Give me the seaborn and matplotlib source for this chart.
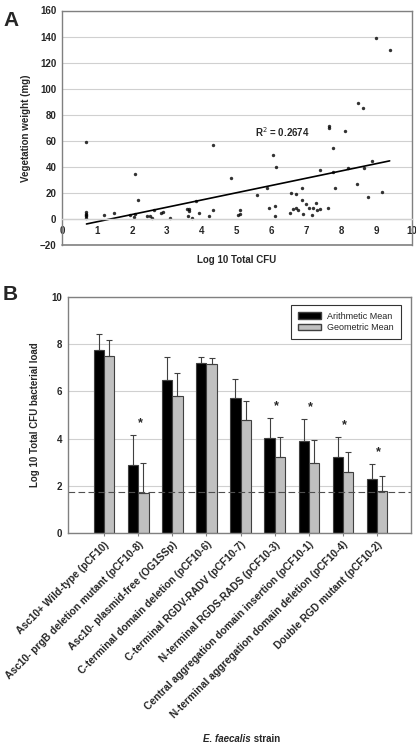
import numpy as np
import pandas as pd
import matplotlib
matplotlib.use("Agg")
import matplotlib.pyplot as plt
from matplotlib.patches import Patch
import seaborn as sns

# Panel A data: log10 CFU vs vegetation weight
cfu = [0.7, 0.7, 0.7, 0.7, 0.7, 0.7, 1.19, 1.5, 1.95, 2.08, 2.05, 2.08, 2.18,
       2.43, 2.52, 2.57, 2.63, 2.84, 2.9, 3.08, 3.58, 3.62, 3.64, 3.61, 3.73,
       3.84, 3.93, 4.2, 4.31, 4.33, 4.83, 5.03, 5.08, 5.1, 5.57, 5.86, 5.93,
       6.03, 6.08, 6.1, 6.13, 6.52, 6.55, 6.6, 6.69, 6.7, 6.76, 6.85, 6.85,
       6.9, 6.98, 7.06, 7.16, 7.19, 7.26, 7.29, 7.38, 7.39, 7.6, 7.64, 7.64,
       7.74, 7.74, 7.82, 8.1, 8.18, 8.45, 8.47, 8.61, 8.64, 8.74, 8.87, 8.98,
       9.16, 9.37]
weight = [59, 5, 4, 3, 2, 1, 3, 4.7, 3, 34.5, 1.3, 4, 14.8,
          2.3, 2.3, 0.5, 6.5, 4.7, 5.7, 1, 7.5, 6, 7.5, 2.6, 0.5,
          13.5, 4.7, 2.3, 6.5, 57, 31.4, 2.9, 3.6, 7, 18.2, 24, 8.3,
          49, 9.6, 2.6, 39.7, 4.9, 19.7, 7.5, 19.2, 8.6, 6.5, 24, 14.3,
          3.9, 11.7, 8.6, 3.1, 8.6, 12.2, 6.5, 8, 37.4, 8.2, 71.3, 69.5,
          54.6, 36.4, 23.6, 67.2, 39.2, 26.7, 89, 85.4, 39.2, 16.9, 44.6, 139,
          21, 130]
r_squared = "0.2674"

# Panel B data
strains = ["Asc10+ Wild-type (pCF10)",
           "Asc10- prgB deletion mutant (pCF10-8)",
           "Asc10- plasmid-free (OG1SSp)",
           "C-terminal domain deletion (pCF10-6)",
           "C-terminal RGDV-RADV (pCF10-7)",
           "N-terminal RGDS-RADS (pCF10-3)",
           "Central aggregation domain insertion (pCF10-1)",
           "N-terminal aggregation domain deletion (pCF10-4)",
           "Double RGD mutant (pCF10-2)"]
arith_mean = [7.75, 2.88, 6.47, 7.19, 5.73, 4.02, 3.9, 3.24, 2.3]
arith_err = [0.66, 1.27, 1.0, 0.25, 0.81, 0.87, 0.95, 0.81, 0.62]
geo_mean = [7.51, 1.69, 5.82, 7.16, 4.79, 3.23, 2.97, 2.61, 1.8]
geo_err = [0.66, 1.27, 0.97, 0.24, 0.82, 0.85, 0.97, 0.81, 0.63]
significant = [False, True, False, False, False, True, True, True, True]
detection_limit = 1.76

sns.set_theme(style="white")
plt.rcParams["font.family"] = ["Liberation Sans", "DejaVu Sans"]

W, H = 416, 745
fig = plt.figure(figsize=(W / 100, H / 100), dpi=100)


def px_axes(left, top, right, bottom):
    return fig.add_axes([left / W, 1 - bottom / H, (right - left) / W, (bottom - top) / H])


GRID = "#d0d0d0"
FRAME = "#808080"

# ---- Panel A ----
axA = px_axes(62, 10.5, 411.7, 245)
sns.regplot(x=cfu, y=weight, ax=axA, ci=None,
            scatter_kws=dict(marker="D", s=6, color="black", linewidths=0),
            line_kws=dict(color="black", lw=1.2))
axA.set_xlim(0, 10)
axA.set_ylim(-20, 160)
axA.set_xticks(range(0, 11))
axA.set_yticks(range(-20, 161, 20))
axA.yaxis.grid(True, color=GRID, lw=0.8)
axA.set_axisbelow(True)
for s in axA.spines.values():
    s.set_color(FRAME)
    s.set_linewidth(1)
# x axis crosses at y = 0, frame still closes at the bottom
axA.spines["bottom"].set_position(("data", 0))
axA.spines["bottom"].set_color(GRID)
axA.axhline(-20, color=FRAME, lw=1.2, clip_on=False)
axA.tick_params(axis="y", length=2.5, width=0.8, color=FRAME, pad=1.5, labelsize=7)
axA.tick_params(axis="x", length=2.5, width=0.8, color=GRID, pad=2.5, labelsize=7)
for lab in axA.get_xticklabels() + axA.get_yticklabels():
    lab.set_fontweight("bold")
axA.set_xlabel("")
fig.text((62 + 411.7) / 2 / W, 1 - 260 / H, "Log 10 Total CFU", fontsize=7,
         fontweight="bold", ha="center", va="center")
axA.set_ylabel("Vegetation weight (mg)", fontsize=7, fontweight="bold", labelpad=6)
axA.text(5.52, 67, f"R$^2$ = {r_squared}", fontsize=7, fontweight="bold", va="center")
fig.text(3 / W, 1 - 20 / H, "A", fontsize=15, fontweight="bold", va="center")

# ---- Panel B ----
axB = px_axes(67.7, 296.7, 410.7, 533.3)
df = pd.DataFrame({
    "strain": strains * 2,
    "measure": ["Arithmetic Mean"] * len(strains) + ["Geometric Mean"] * len(strains),
    "value": arith_mean + geo_mean,
})
sns.barplot(data=df, x="strain", y="value", hue="measure", ax=axB,
            palette=["black", "#c0c0c0"], width=0.6, errorbar=None,
            edgecolor="#404040", linewidth=0.8, legend=False)

# one-sided error bars on top of each bar
bars = axB.patches
n = len(strains)
for i, (means, errs) in enumerate([(arith_mean, arith_err), (geo_mean, geo_err)]):
    xs = [p.get_x() + p.get_width() / 2 for p in bars[i * n:(i + 1) * n]]
    axB.errorbar(xs, means, yerr=[np.zeros(n), errs], fmt="none",
                 ecolor="#404040", elinewidth=0.8, capsize=2.5, capthick=0.8)

for k, sig in enumerate(significant):
    if sig:
        top = max(arith_mean[k] + arith_err[k], geo_mean[k] + geo_err[k])
        axB.text(k + 0.05, top + 0.5, "*", ha="center", va="center",
                 fontsize=9, fontweight="bold")

axB.axhline(detection_limit, color="#505050", lw=0.8, ls=(0, (6, 3)))
axB.set_xlim(-1.07, 8.99)
axB.set_ylim(0, 10)
axB.set_yticks(range(0, 11, 2))
axB.yaxis.grid(True, color=GRID, lw=0.8)
axB.set_axisbelow(True)
for s in axB.spines.values():
    s.set_color(FRAME)
    s.set_linewidth(1)
axB.tick_params(axis="y", length=2.5, width=0.8, color=FRAME, pad=1.5, labelsize=7)
axB.tick_params(axis="x", length=2.5, width=0.8, color=FRAME, pad=2, labelsize=7.4,
                bottom=True)
axB.set_xticks(range(n))
axB.set_xticklabels(strains, rotation=45, ha="right", rotation_mode="anchor")
for lab in axB.get_xticklabels() + axB.get_yticklabels():
    lab.set_fontweight("bold")
axB.set_ylabel("Log 10 Total CFU bacterial load", fontsize=7, fontweight="bold", labelpad=8)
axB.set_xlabel("")

# x label: italic species name followed by upright "strain"
species = fig.text(251 / W, 1 - 739 / H, "E. faecalis", fontsize=7, fontweight="bold",
                   fontstyle="italic", ha="right", va="center")
plt.annotate(" strain", xy=(1, 0), xycoords=species, fontsize=7, fontweight="bold",
             ha="left", va="bottom")

handles = [Patch(facecolor="black", edgecolor="#404040", label="Arithmetic Mean"),
           Patch(facecolor="#c0c0c0", edgecolor="#404040", label="Geometric Mean")]
leg = axB.legend(handles=handles, loc="upper right", bbox_to_anchor=(0.984, 0.986),
                 fontsize=6.5, frameon=True, fancybox=False, borderpad=0.8,
                 handlelength=2.6, handleheight=0.7, handletextpad=0.6,
                 labelspacing=0.25)
leg.get_frame().set_edgecolor("black")
leg.get_frame().set_linewidth(0.8)

fig.text(3 / W, 1 - 295 / H, "B", fontsize=15, fontweight="bold", va="center")

fig.savefig("out.png", dpi=100)
